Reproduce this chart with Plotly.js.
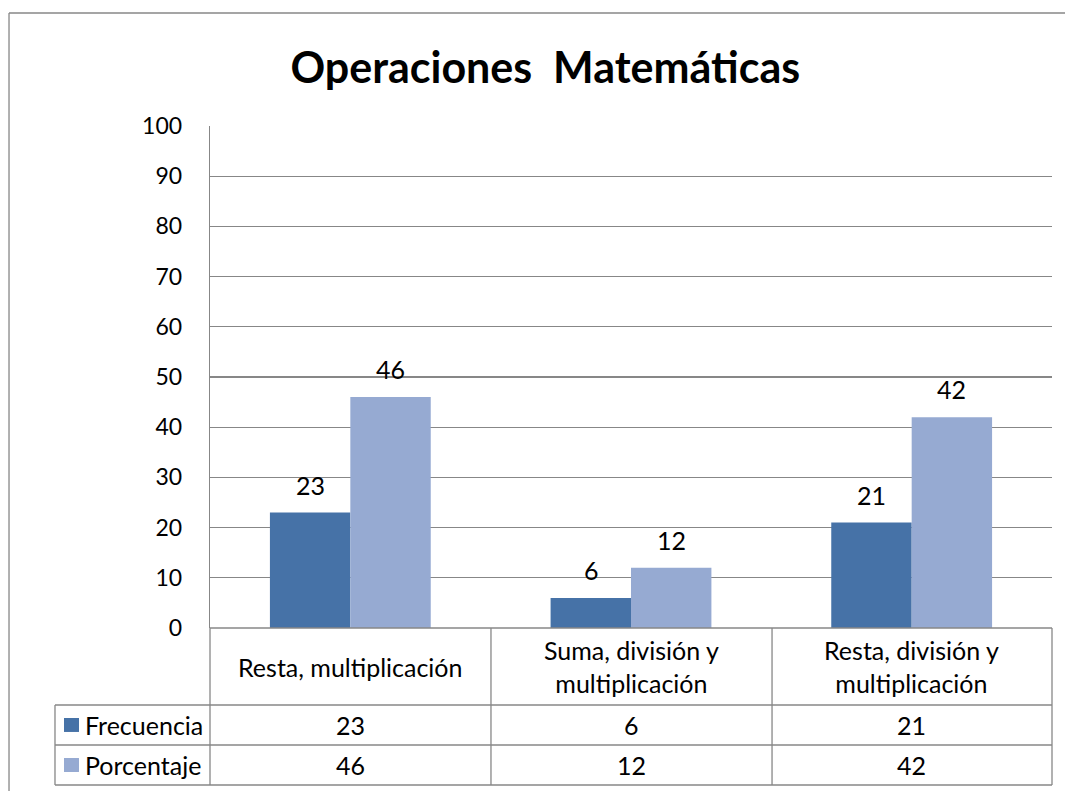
<!DOCTYPE html>
<html>
<head>
<meta charset="utf-8">
<script src="https://cdn.plot.ly/plotly-3.0.1.min.js"></script>
<style>
  html, body { margin: 0; padding: 0; background: #fff; }
  #myDiv { width: 1065px; height: 791px; }
</style>
</head>
<body>
<div id="myDiv"></div>
<script>
var categories = ['Resta, multiplicación', 'Suma, división y multiplicación', 'Resta, división y multiplicación'];
var categoryLabels = ['Resta, multiplicación', 'Suma, división y<br>multiplicación', 'Resta, división y<br>multiplicación'];
var frecuencia = [23, 6, 21];
var porcentaje = [46, 12, 42];
var seriesNames = ['Frecuencia', 'Porcentaje'];
var yTicks = [0, 10, 20, 30, 40, 50, 60, 70, 80, 90, 100];

var darkBlue = '#4672A7';
var lightBlue = '#96AAD2';
var lineGray = '#878787';
var font = 'Lato, "Open Sans", sans-serif';

var barFrec = {
	x: categories,
	y: frecuencia,
	name: seriesNames[0],
	type: 'bar',
	marker: {color: darkBlue},
	hoverinfo: 'none'
};

var barPorc = {
	x: categories,
	y: porcentaje,
	name: seriesNames[1],
	type: 'bar',
	marker: {color: lightBlue},
	hoverinfo: 'none'
};

var data = [barFrec, barPorc];

// data table under the plot, in paper units of the plot area
var rowY = [0, -0.1534, -0.2331, -0.3127];
var colX = [0, 0.3337, 0.6675, 1];
var tableLeft = -0.1841;

var shapes = [];
function line(x0, y0, x1, y1) {
	shapes.push({type: 'line', xref: 'paper', yref: 'paper', x0: x0, y0: y0, x1: x1, y1: y1,
		line: {color: lineGray, width: 1.3}});
}
colX.forEach(function (cx) { line(cx, rowY[0], cx, rowY[3]); });
line(tableLeft, rowY[1], tableLeft, rowY[3]);
line(0, rowY[0], 1, rowY[0]);
line(tableLeft, rowY[1], 1, rowY[1]);
line(tableLeft, rowY[2], 1, rowY[2]);
line(tableLeft, rowY[3], 1, rowY[3]);
// outer chart frame (left and top edges)
line(-0.2387, 1.2251, 1.03, 1.2251);
line(-0.2387, 1.2251, -0.2387, -0.36);

var annotations = [];
var rows = [frecuencia, porcentaje];
var rowCenter = [-0.1932, -0.2729];
var swatchColors = [darkBlue, lightBlue];
var cellFont = {family: font, size: 25, color: '#000'};

categories.forEach(function (c, i) {
	annotations.push({x: c, y: -0.0767, xref: 'x', yref: 'paper', text: categoryLabels[i],
		xanchor: 'center', yanchor: 'middle',
		showarrow: false, font: cellFont, align: 'center'});
	rows.forEach(function (vals, r) {
		annotations.push({x: c, y: rowCenter[r], xref: 'x', yref: 'paper', text: String(vals[i]),
			xanchor: 'center', yanchor: 'middle',
			showarrow: false, font: cellFont});
		// value labels above bars
		annotations.push({x: c, y: vals[i], xref: 'x', yref: 'y', text: String(vals[i]),
			xshift: r === 0 ? -40 : 40, yshift: 11, xanchor: 'center', yanchor: 'bottom',
			showarrow: false, font: cellFont});
	});
});

seriesNames.forEach(function (n, r) {
	annotations.push({x: -0.151, y: rowCenter[r], xref: 'paper', yref: 'paper', text: n,
		xanchor: 'left', yanchor: 'middle', showarrow: false, font: cellFont});
	shapes.push({type: 'rect', xref: 'paper', yref: 'paper',
		x0: -0.1734, x1: -0.1556, y0: rowCenter[r] + 0.0139, y1: rowCenter[r] - 0.0139,
		fillcolor: swatchColors[r], line: {width: 0}});
});

var layout = {
	width: 1065,
	height: 791,
	margin: {l: 210, r: 13, t: 126, b: 163},
	title: {
		text: '<b>Operaciones  Matemáticas</b>',
		font: {family: font, size: 43, color: '#000'},
		x: 0.512,
		xanchor: 'center',
		y: 0.914,
		yanchor: 'middle'
	},
	showlegend: false,
	barmode: 'group',
	bargap: 0.427,
	bargroupgap: 0,
	xaxis: {
		type: 'category',
		showticklabels: false,
		showgrid: false,
		showline: false,
		zeroline: false,
		fixedrange: true
	},
	yaxis: {
		range: [0, 100],
		tickvals: yTicks,
		ticktext: yTicks.map(String),
		showgrid: true,
		gridcolor: lineGray,
		gridwidth: 1.3,
		showline: true,
		linecolor: lineGray,
		linewidth: 1.3,
		zeroline: false,
		ticks: '',
		ticklabelstandoff: 22,
		tickfont: {family: font, size: 23, color: '#000'},
		fixedrange: true
	},
	shapes: shapes,
	annotations: annotations,
	plot_bgcolor: '#fff',
	paper_bgcolor: '#fff'
};

Plotly.newPlot('myDiv', data, layout, {displayModeBar: false, staticPlot: true});
</script>
</body>
</html>
